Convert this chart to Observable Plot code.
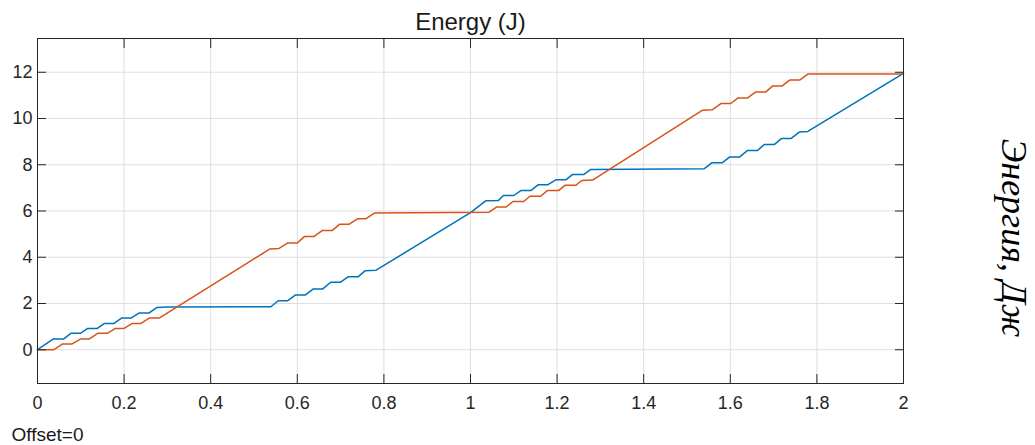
<!DOCTYPE html>
<html>
<head>
<meta charset="utf-8">
<script src="https://cdn.jsdelivr.net/npm/d3@7"></script>
<script src="https://cdn.jsdelivr.net/npm/@observablehq/plot@0.6"></script>
<style>
  html, body { margin: 0; padding: 0; background: #fff; }
</style>
</head>
<body>
<div id="chart"></div>
<script>
// ---- data ----
const blueT = [0, 0.036, 0.060, 0.077, 0.099, 0.116, 0.138, 0.155, 0.177, 0.194, 0.216, 0.235, 0.258, 0.276, 0.300,
  0.539, 0.556, 0.578, 0.596, 0.619, 0.637, 0.659, 0.677, 0.700, 0.718, 0.741, 0.757, 0.782,
  1.000, 1.035, 1.064, 1.076, 1.100, 1.117, 1.140, 1.156, 1.178, 1.197, 1.220, 1.236, 1.262, 1.278,
  1.540, 1.558, 1.582, 1.598, 1.621, 1.640, 1.663, 1.679, 1.702, 1.718, 1.740, 1.760, 1.779, 2.000];
const blueE = [0, 0.46, 0.46, 0.71, 0.71, 0.92, 0.92, 1.14, 1.14, 1.37, 1.37, 1.59, 1.59, 1.83, 1.85,
  1.86, 2.12, 2.12, 2.37, 2.37, 2.63, 2.63, 2.92, 2.92, 3.16, 3.16, 3.42, 3.44,
  5.93, 6.44, 6.45, 6.67, 6.67, 6.89, 6.89, 7.13, 7.13, 7.35, 7.35, 7.58, 7.58, 7.80,
  7.83, 8.09, 8.09, 8.33, 8.33, 8.62, 8.62, 8.88, 8.88, 9.13, 9.13, 9.42, 9.44, 11.95];

const orangeT = [0, 0.038, 0.058, 0.080, 0.099, 0.119, 0.139, 0.161, 0.180, 0.200, 0.219, 0.239, 0.258, 0.281,
  0.537, 0.558, 0.578, 0.600, 0.617, 0.639, 0.658, 0.681, 0.698, 0.720, 0.739, 0.758, 0.778,
  1.043, 1.060, 1.082, 1.098, 1.123, 1.137, 1.162, 1.178, 1.204, 1.218, 1.243, 1.257, 1.282,
  1.536, 1.559, 1.579, 1.601, 1.618, 1.640, 1.659, 1.682, 1.698, 1.720, 1.737, 1.760, 1.779, 2.000];
const orangeE = [0, 0, 0.25, 0.25, 0.46, 0.46, 0.71, 0.71, 0.92, 0.92, 1.14, 1.14, 1.37, 1.37,
  4.36, 4.38, 4.62, 4.62, 4.90, 4.90, 5.16, 5.16, 5.43, 5.43, 5.66, 5.66, 5.91,
  5.95, 6.17, 6.17, 6.41, 6.41, 6.64, 6.64, 6.89, 6.89, 7.11, 7.11, 7.32, 7.34,
  10.36, 10.38, 10.65, 10.65, 10.89, 10.89, 11.15, 11.15, 11.41, 11.41, 11.66, 11.66, 11.92, 11.93];

const xTicks = [0, 0.2, 0.4, 0.6, 0.8, 1, 1.2, 1.4, 1.6, 1.8, 2];
const yTicks = [0, 2, 4, 6, 8, 10, 12];
const xTickLabels = ["0", "0.2", "0.4", "0.6", "0.8", "1", "1.2", "1.4", "1.6", "1.8", "2"];
const yTickLabels = ["0", "2", "4", "6", "8", "10", "12"];

const titleText = "Energy (J)";
const offsetText = "Offset=0";
const sideLabel = "Энергия, Дж";

// ---- build ----
const blue = blueT.map((t, i) => ({t, e: blueE[i]}));
const orange = orangeT.map((t, i) => ({t, e: orangeE[i]}));
const axisColor = "#262626";
const gridColor = "#dfdfdf";
const sans = "'Liberation Sans', Arial, Helvetica, sans-serif";

const chart = Plot.plot({
  width: 1035,
  height: 445,
  marginLeft: 37,
  marginRight: 132,
  marginTop: 38,
  marginBottom: 62,
  style: {fontFamily: sans, fontSize: "18px", color: axisColor, background: "#fff"},
  x: {domain: [0, 2]},
  y: {domain: [-1.46, 13.46]},
  marks: [
    Plot.gridX(xTicks, {stroke: gridColor, strokeOpacity: 1}),
    Plot.gridY(yTicks, {stroke: gridColor, strokeOpacity: 1}),
    Plot.line(blue, {x: "t", y: "e", stroke: "#0072BD", strokeWidth: 1.5}),
    Plot.line(orange, {x: "t", y: "e", stroke: "#D95319", strokeWidth: 1.5}),
    Plot.frame({stroke: axisColor, strokeWidth: 1}),
    Plot.axisX(xTicks, {anchor: "bottom", tickSize: -9, tickPadding: 22, stroke: axisColor,
      tickFormat: (d, i) => xTickLabels[xTicks.indexOf(d)], label: null, fontSize: 18, fill: axisColor}),
    Plot.axisX(xTicks, {anchor: "top", tickSize: -9, stroke: axisColor, tickFormat: () => "", label: null}),
    Plot.axisY(yTicks, {anchor: "left", tickSize: -9, tickPadding: 14, stroke: axisColor,
      tickFormat: d => yTickLabels[yTicks.indexOf(d)], label: null, fontSize: 18, fill: axisColor}),
    Plot.axisY(yTicks, {anchor: "right", tickSize: -9, stroke: axisColor, tickFormat: () => "", label: null}),
    Plot.text([titleText], {frameAnchor: "top", dy: -16, fontSize: 24, fill: "#1a1a1a", lineAnchor: "middle", fontFamily: sans}),
    Plot.text([offsetText], {frameAnchor: "bottom-left", dx: -26, dy: 51.6, textAnchor: "start", lineAnchor: "middle", fontSize: 19, fill: "#1a1a1a", fontFamily: sans}),
    Plot.text([sideLabel], {frameAnchor: "right", dx: 110, dy: 27, rotate: 90, textAnchor: "middle", lineAnchor: "middle",
      fontSize: 36, fontStyle: "italic", fontFamily: "'Liberation Serif', 'DejaVu Serif', serif", fill: "#000"})
  ]
});
document.getElementById("chart").appendChild(chart);
</script>
</body>
</html>
